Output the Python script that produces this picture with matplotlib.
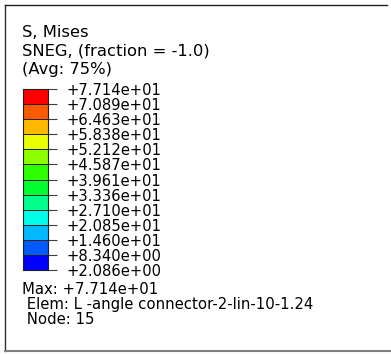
import matplotlib
matplotlib.use("Agg")
import matplotlib.pyplot as plt

# Legende Abaqus : contrainte de von Mises
title_lines = ["S, Mises", "SNEG, (fraction = -1.0)", "(Avg: 75%)"]
levels = [77.14, 70.89, 64.63, 58.38, 52.12, 45.87, 39.61,
          33.36, 27.10, 20.85, 14.60, 8.340, 2.086]
band_colors = ["#0000ff", "#005aff", "#00b9ff", "#00ffe8", "#00ff8c", "#00ff30",
               "#2eff00", "#8cff00", "#e8ff00", "#ffb900", "#ff5a00", "#ff0000"]
info_lines = ["Max: +7.714e+01", " Elem: L -angle connector-2-lin-10-1.24", " Node: 15"]

W, H = 391, 354
fig = plt.figure(figsize=(W / 100, H / 100), dpi=100)

# fond en coordonnees pixel
bg = fig.add_axes([0, 0, 1, 1])
bg.set_xlim(0, W)
bg.set_ylim(H, 0)
bg.axis("off")

# cadre (gauche, haut, bas)
bg.plot([5, 5], [5, 351], color="#303030", lw=1)
bg.plot([5, 387], [5, 5], color="#202020", lw=1)
bg.plot([5, 391], [351, 351], color="#808080", lw=1.5)

for i, t in enumerate(title_lines):
    bg.text(22, 37 + 18.5 * i, t, fontsize=11.8, va="baseline", ha="left")

for i, t in enumerate(info_lines):
    bg.text(22, 294 + 15 * i, t, fontsize=10.7, va="baseline", ha="left")

# barre de couleurs
cax = fig.add_axes([23 / W, (H - 270) / H, 25 / W, 181 / H])
n = len(band_colors)
for i, c in enumerate(band_colors):
    cax.bar(0, 1, bottom=i, width=1, color=c, edgecolor="#202020", lw=0.7)
cax.set_xlim(-0.5, 0.5)
cax.set_ylim(0, n)
cax.set_xticks([])
cax.set_yticks(range(n + 1))
cax.set_yticklabels(["%+.3e" % v for v in levels[::-1]], fontsize=10.6)
cax.yaxis.tick_right()
cax.tick_params(axis="y", direction="out", length=6.5, width=0.8,
                color="#404040", pad=6.5)
for s in cax.spines.values():
    s.set_color("#202020")
    s.set_linewidth(0.8)

fig.savefig("out.png", dpi=100)
